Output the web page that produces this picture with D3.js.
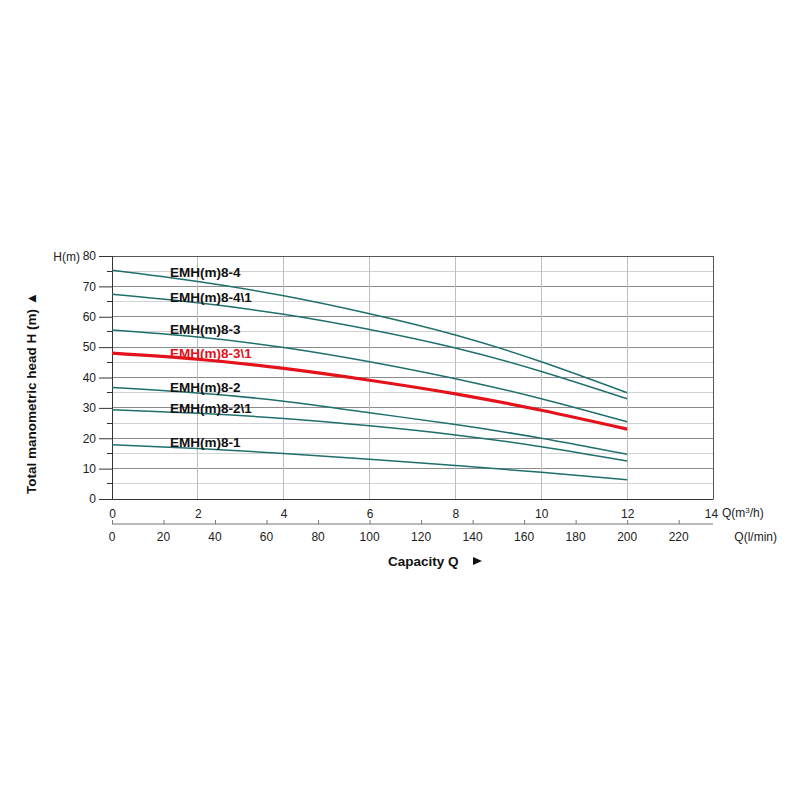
<!DOCTYPE html>
<html>
<head>
<meta charset="utf-8">
<script src="https://cdn.jsdelivr.net/npm/d3@7"></script>
<style>
  html, body { margin: 0; padding: 0; background: #ffffff; }
  svg { display: block; font-family: "Liberation Sans", Arial, sans-serif; }
</style>
</head>
<body>
<svg id="chart" width="800" height="800"></svg>
<script>
// ---- data ----
const flowM3h = [0, 2, 4, 6, 8, 10, 12];
const seriesNames = ["EMH(m)8-4", "EMH(m)8-4\\1", "EMH(m)8-3", "EMH(m)8-3\\1", "EMH(m)8-2", "EMH(m)8-2\\1", "EMH(m)8-1"];
const head_8_4   = [75.3, 71.6, 66.9, 61.0, 54.0, 45.2, 35.0];
const head_8_4_1 = [67.4, 64.6, 60.8, 55.8, 49.7, 42.0, 33.0];
const head_8_3   = [55.6, 53.3, 49.9, 45.2, 39.6, 33.0, 25.4];
const head_8_3_1 = [48.0, 46.0, 43.0, 39.1, 34.6, 29.2, 23.0];
const head_8_2   = [36.7, 34.9, 32.2, 28.4, 24.5, 20.0, 14.7];
const head_8_2_1 = [29.4, 28.2, 26.5, 24.1, 21.1, 17.2, 12.5];
const head_8_1   = [17.9, 16.6, 15.0, 13.1, 11.0, 8.8, 6.3];
const seriesHeads = [head_8_4, head_8_4_1, head_8_3, head_8_3_1, head_8_2, head_8_2_1, head_8_1];
const highlighted = "EMH(m)8-3\\1";
const labelHeads = [73.2, 64.7, 54.2, 46.3, 35.1, 28.2, 17.2];
const labelQ = 1.35;
const yTicks = [0, 10, 20, 30, 40, 50, 60, 70, 80];
const xTicksM3h = [0, 2, 4, 6, 8, 10, 12, 14];
const xTicksLmin = [0, 20, 40, 60, 80, 100, 120, 140, 160, 180, 200, 220];

// ---- layout ----
const svg = d3.select("#chart");
const x = d3.scaleLinear().domain([0, 14]).range([112, 713]);
const xL = d3.scaleLinear().domain([0, 14 * 1000 / 60]).range([112, 713]);
const y = d3.scaleLinear().domain([0, 80]).range([499, 256]);

const teal = "#1f6f6c";
const red = "#e3121b";
const fs = 12;

// horizontal grid (every 5, darker at 10)
const hGrid = d3.range(5, 80, 5);
svg.append("g").selectAll("line").data(hGrid).join("line")
  .attr("x1", x(0)).attr("x2", x(14))
  .attr("y1", d => y(d)).attr("y2", d => y(d))
  .attr("stroke", d => d % 10 === 0 ? "#8c8c8c" : "#d2d2d2")
  .attr("stroke-width", 1).attr("shape-rendering", "crispEdges");

// vertical grid
svg.append("g").selectAll("line").data(d3.range(2, 14, 2)).join("line")
  .attr("x1", d => x(d)).attr("x2", d => x(d))
  .attr("y1", y(0)).attr("y2", y(80))
  .attr("stroke", "#bdbdbd").attr("stroke-width", 1).attr("shape-rendering", "crispEdges");

// frame top/right
svg.append("line").attr("x1", x(0)).attr("x2", x(14)).attr("y1", y(80)).attr("y2", y(80))
  .attr("stroke", "#555").attr("shape-rendering", "crispEdges");
svg.append("line").attr("x1", x(14)).attr("x2", x(14)).attr("y1", y(80)).attr("y2", y(0))
  .attr("stroke", "#555").attr("shape-rendering", "crispEdges");

// y axis
const yAxis = d3.axisLeft(y).tickValues(yTicks).tickSize(13).tickPadding(3).tickFormat(d3.format("d"));
const gy = svg.append("g").attr("transform", `translate(${x(0)},0)`).call(yAxis);
gy.select(".domain").attr("stroke", "#333");
gy.selectAll(".tick line").attr("stroke", "#333");
gy.selectAll("text").attr("font-size", fs).attr("fill", "#222").attr("font-family", "Liberation Sans, Arial, sans-serif");
// minor y ticks
svg.append("g").selectAll("line").data(d3.range(5, 80, 10)).join("line")
  .attr("x1", x(0) - 5).attr("x2", x(0))
  .attr("y1", d => y(d)).attr("y2", d => y(d))
  .attr("stroke", "#333").attr("shape-rendering", "crispEdges");

// x axis (m3/h)
const xAxis = d3.axisBottom(x).tickValues(xTicksM3h).tickSize(0).tickPadding(10).tickFormat(d3.format("d"));
const gx = svg.append("g").attr("transform", `translate(0,${y(0)})`).call(xAxis);
gx.select(".domain").attr("stroke", "#333");
gx.selectAll("text").attr("font-size", fs).attr("fill", "#222").attr("font-family", "Liberation Sans, Arial, sans-serif");
gx.selectAll(".tick").filter(d => d === 14).select("text").attr("dx", -2);

// l/min axis
const xAxisL = d3.axisTop(xL).tickValues(xTicksLmin).tickSize(4).tickFormat("");
const gl = svg.append("g").attr("transform", "translate(0,524)").call(xAxisL);
gl.select(".domain").attr("stroke", "#777").attr("d", `M${x(0)},0H${x(14)}`);
gl.selectAll(".tick line").attr("stroke", "#777");
svg.append("g").selectAll("text").data(xTicksLmin).join("text")
  .attr("x", d => xL(d)).attr("y", 541)
  .attr("text-anchor", "middle").attr("font-size", fs).attr("fill", "#222")
  .text(d => d);

// axis unit labels
svg.append("text").attr("x", 722).attr("y", 517).attr("font-size", fs).attr("fill", "#222")
  .html('Q(m<tspan dy="-4" font-size="8">3</tspan><tspan dy="4">/h)</tspan>');
svg.append("text").attr("x", 777).attr("y", 541).attr("text-anchor", "end").attr("font-size", fs).attr("fill", "#222")
  .text("Q(l/min)");
svg.append("text").attr("x", 80).attr("y", 261).attr("text-anchor", "end").attr("font-size", fs).attr("fill", "#222")
  .text("H(m)");

// titles
svg.append("text").attr("x", 388).attr("y", 566).attr("font-size", 13.5).attr("font-weight", "bold").attr("fill", "#111")
  .text("Capacity Q");
svg.append("path").attr("d", "M473,557 L482,561 L473,565 Z").attr("fill", "#111");
svg.append("text").attr("transform", "translate(36,393) rotate(-90)").attr("text-anchor", "middle")
  .attr("font-size", 13.5).attr("font-weight", "bold").attr("fill", "#111")
  .text("Total manometric head H (m)  \u25B2");

// curves
const line = d3.line().x((d, i) => x(flowM3h[i])).y(d => y(d)).curve(d3.curveNatural);
const order = seriesNames.map((n, i) => i).sort((a, b) => (seriesNames[a] === highlighted) - (seriesNames[b] === highlighted));
svg.append("g").selectAll("path").data(order).join("path")
  .attr("d", i => line(seriesHeads[i]))
  .attr("fill", "none")
  .attr("stroke", i => seriesNames[i] === highlighted ? red : teal)
  .attr("stroke-width", i => seriesNames[i] === highlighted ? 3.2 : 1.5);

// curve labels
svg.append("g").selectAll("text").data(seriesNames).join("text")
  .attr("x", x(labelQ)).attr("y", (d, i) => y(labelHeads[i]))
  .attr("font-size", 13.5).attr("font-weight", "bold")
  .attr("fill", d => d === highlighted ? red : "#111")
  .text(d => d);
</script>
</body>
</html>
